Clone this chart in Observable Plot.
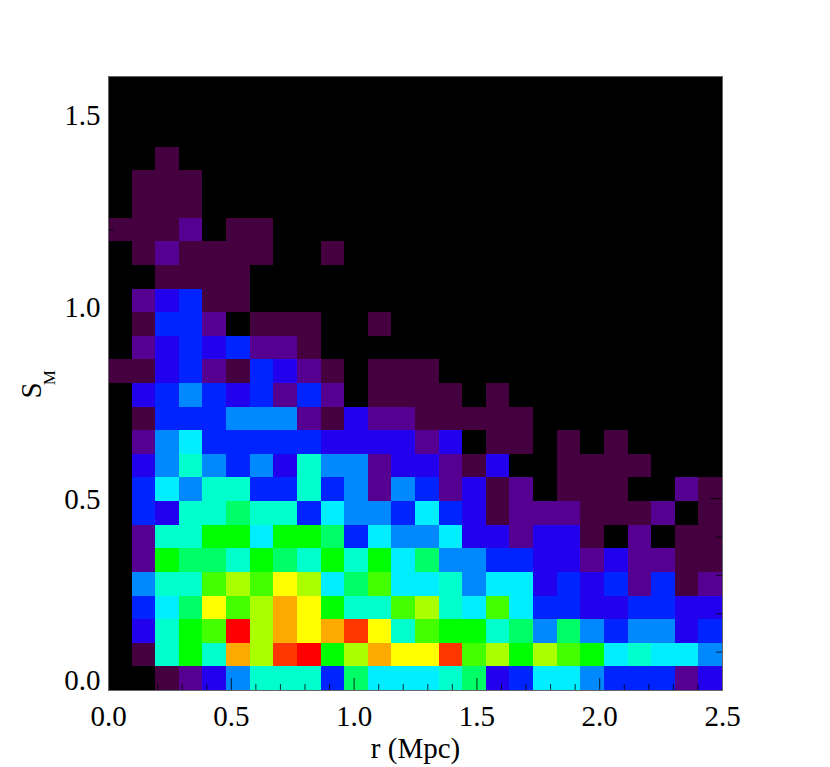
<!DOCTYPE html>
<html>
<head>
<meta charset="utf-8">
<style>html,body{margin:0;padding:0;background:#fff}svg{display:block}</style>
<script src="https://cdn.jsdelivr.net/npm/d3@7"></script>
<script src="https://cdn.jsdelivr.net/npm/@observablehq/plot@0.6"></script>
</head>
<body>
<div id="chart"></div>
<script>
const row00 = [0,0,1,2,3,5,7,7,7,4,8,6,6,6,7,8,3,4,6,6,5,4,4,4,2,3];
const row01 = [0,1,7,9,7,13,11,14,15,9,11,13,12,12,14,10,11,9,11,10,9,6,7,6,6,5];
const row02 = [0,3,7,9,10,15,11,13,12,13,14,12,7,10,9,9,7,8,5,8,5,4,5,5,3,4];
const row03 = [0,4,6,8,12,10,11,13,12,9,7,7,10,11,7,6,10,6,4,4,3,3,4,4,3,3];
const row04 = [0,5,7,7,10,11,10,12,11,6,8,10,6,6,7,5,6,6,3,4,3,4,2,4,1,2];
const row05 = [0,2,9,8,8,7,9,8,7,9,7,9,6,8,5,5,4,4,3,3,2,3,2,2,1,1];
const row06 = [0,2,7,7,9,9,6,9,9,8,4,6,5,5,6,3,3,2,3,3,1,0,2,0,1,1];
const row07 = [0,4,3,7,7,8,7,7,4,6,5,5,4,6,4,3,1,2,2,2,1,1,1,2,0,1];
const row08 = [0,4,6,5,7,7,4,4,7,4,5,2,5,4,2,3,1,2,0,1,1,1,0,0,2,1];
const row09 = [0,3,5,7,5,4,5,3,7,5,5,2,3,3,2,1,3,0,0,1,1,1,1,0,0,0];
const row10 = [0,2,5,6,4,4,4,4,4,3,3,3,3,2,3,0,1,1,0,1,0,1,0,0,0,0];
const row11 = [0,1,4,4,4,5,5,5,2,1,3,2,2,1,1,1,1,1,0,0,0,0,0,0,0,0];
const row12 = [0,3,4,5,4,3,4,2,4,2,0,1,1,1,1,0,1,0,0,0,0,0,0,0,0,0];
const row13 = [1,1,3,4,2,1,4,3,2,1,0,1,1,1,0,0,0,0,0,0,0,0,0,0,0,0];
const row14 = [0,2,3,4,3,4,2,2,1,0,0,0,0,0,0,0,0,0,0,0,0,0,0,0,0,0];
const row15 = [0,1,4,4,2,0,1,1,1,0,0,1,0,0,0,0,0,0,0,0,0,0,0,0,0,0];
const row16 = [0,2,3,4,1,1,0,0,0,0,0,0,0,0,0,0,0,0,0,0,0,0,0,0,0,0];
const row17 = [0,0,1,1,1,1,0,0,0,0,0,0,0,0,0,0,0,0,0,0,0,0,0,0,0,0];
const row18 = [0,1,2,1,1,1,1,0,0,1,0,0,0,0,0,0,0,0,0,0,0,0,0,0,0,0];
const row19 = [1,1,1,2,0,1,1,0,0,0,0,0,0,0,0,0,0,0,0,0,0,0,0,0,0,0];
const row20 = [0,1,1,1,0,0,0,0,0,0,0,0,0,0,0,0,0,0,0,0,0,0,0,0,0,0];
const row21 = [0,1,1,1,0,0,0,0,0,0,0,0,0,0,0,0,0,0,0,0,0,0,0,0,0,0];
const row22 = [0,0,1,0,0,0,0,0,0,0,0,0,0,0,0,0,0,0,0,0,0,0,0,0,0,0];
const rows = [row00,row01,row02,row03,row04,row05,row06,row07,row08,row09,row10,row11,row12,row13,row14,row15,row16,row17,row18,row19,row20,row21,row22];

const levels = [0,1,2,3,4,5,6,7,8,9,10,11,12,13,14,15];
const levelColors = ["#000000","#450040","#550090","#2200ee","#0024ff","#0088ff","#00eeff","#00ffcc","#00ff66","#00ff00","#44ff00","#aaff00","#ffff00","#ffaa00","#ff3600","#ff0000"];

const xMax = 2.5, yMax = 1.6, bins = 26;
const xLabels = [0, 0.5, 1, 1.5, 2, 2.5];
const yLabels = [0.5, 1, 1.5];
const xMinor = [0.1,0.2,0.3,0.4,0.6,0.7,0.8,0.9,1.1,1.2,1.3,1.4,1.6,1.7,1.8,1.9,2.1,2.2,2.3,2.4];
const yMinor = [0.1,0.2,0.3,0.4,0.6,0.7,0.8,0.9,1.1,1.2,1.3,1.4];
const xMajor = [0.5,1,1.5,2];
const yMajor = [0.5,1,1.5];

const cells = rows.flatMap((row, j) => row.map((v, i) => ({i, j, v})));
const font = "Liberation Serif";
const tickStyle = {stroke: "#000", strokeWidth: 0.8};

const plot = Plot.plot({
  width: 830, height: 767,
  marginLeft: 108, marginRight: 108, marginTop: 76, marginBottom: 77,
  style: {fontFamily: font, background: "#fff", color: "#000"},
  x: {domain: [0, xMax], label: null},
  y: {domain: [0, yMax], label: null},
  color: {type: "ordinal", domain: levels, range: levelColors},
  marks: [
    Plot.frame({fill: "#000", stroke: "none"}),
    Plot.rect(cells, {
      x1: d => d.i * xMax / bins, x2: d => (d.i + 1) * xMax / bins,
      y1: d => d.j * yMax / bins, y2: d => (d.j + 1) * yMax / bins,
      fill: d => d.v, shapeRendering: "crispEdges"
    }),
    Plot.ruleX(xMinor, {x: d => d, y1: 0, y2: 0.0156, ...tickStyle}),
    Plot.ruleX(xMajor, {x: d => d, y1: 0, y2: 0.0313, ...tickStyle}),
    Plot.ruleY(yMinor, {y: d => d, x1: 0, x2: 0.0244, ...tickStyle}),
    Plot.ruleY(yMajor, {y: d => d, x1: 0, x2: 0.0488, ...tickStyle}),
    Plot.ruleY(yMinor, {y: d => d, x1: xMax - 0.0244, x2: xMax, ...tickStyle}),
    Plot.ruleY(yMajor, {y: d => d, x1: xMax - 0.0488, x2: xMax, ...tickStyle}),
    Plot.frame({stroke: "#666", strokeWidth: 1}),
    Plot.axisX(xLabels, {anchor: "bottom", tickSize: 0, tickPadding: 15, fontSize: 29, fontFamily: font, tickFormat: d => d.toFixed(1), label: null}),
    Plot.axisY(yLabels, {anchor: "left", tickSize: 0, tickPadding: 8, dy: 1, fontSize: 29, fontFamily: font, tickFormat: d => d.toFixed(1), label: null}),
    Plot.text(["0.0"], {x: 0, y: 0, dx: -8, dy: -10, textAnchor: "end", fontSize: 29, fontFamily: font, fill: "#000"}),
    Plot.text(["r (Mpc)"], {x: xMax / 2, y: 0, dy: 58, fontSize: 29, fontFamily: font, fill: "#000"}),
    Plot.text(["S"], {x: 0, y: 0.782, dx: -77, rotate: -90, fontSize: 29, fontFamily: font, fill: "#000"}),
    Plot.text(["M"], {x: 0, y: 0.815, dx: -59, rotate: -90, fontSize: 17, fontFamily: font, fill: "#000"})
  ]
});
document.getElementById("chart").append(plot);
</script>
</body>
</html>
